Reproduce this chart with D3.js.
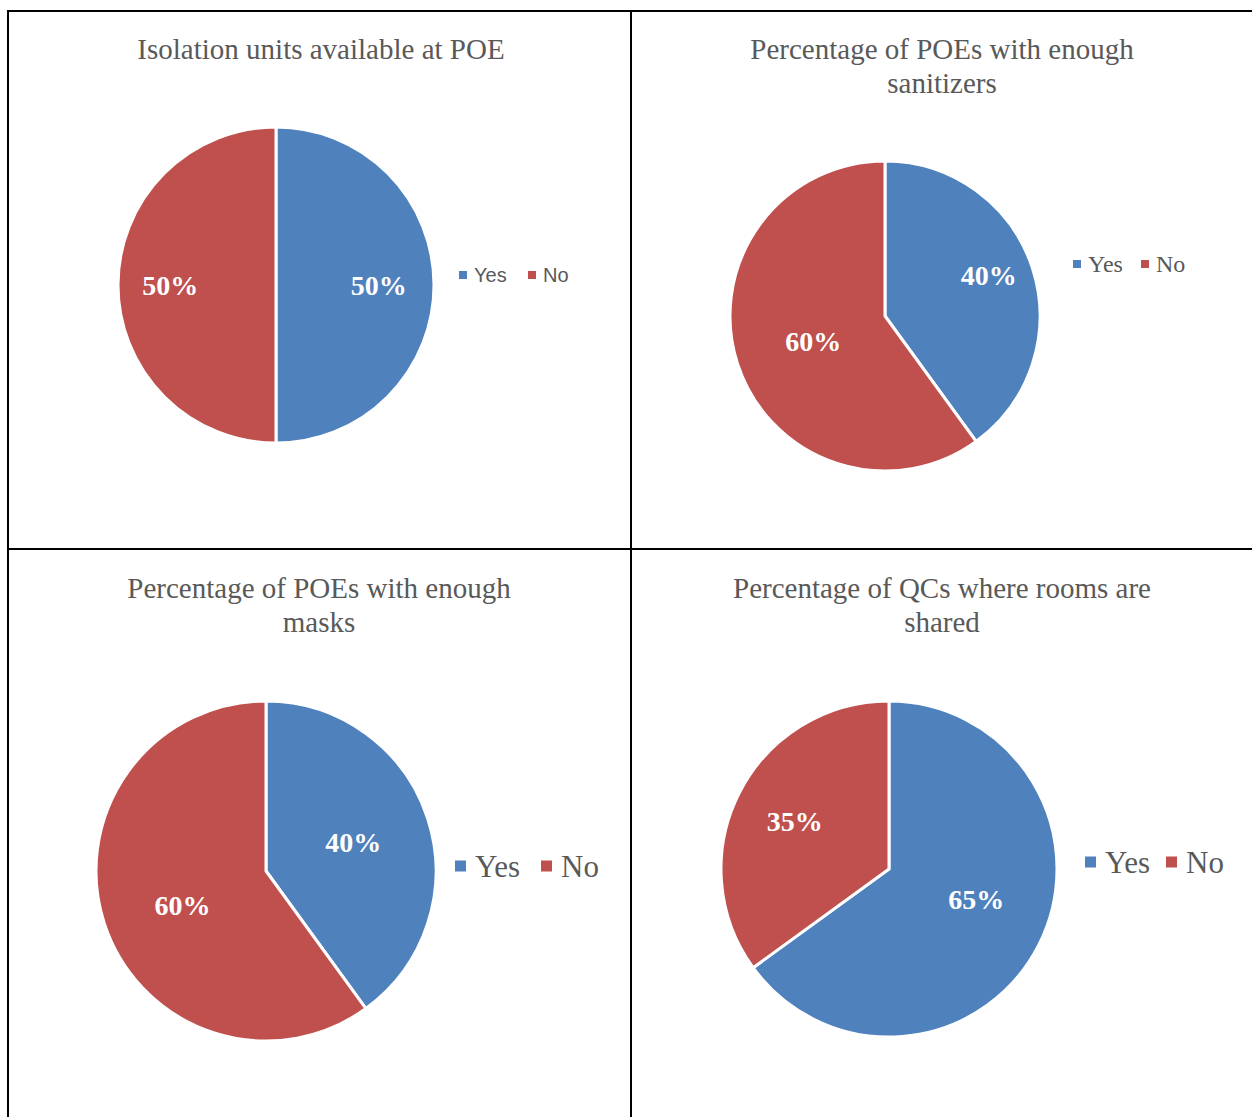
<!DOCTYPE html>
<html>
<head>
<meta charset="utf-8">
<script src="https://cdn.jsdelivr.net/npm/d3@7/dist/d3.min.js"></script>
<style>
  html, body { margin: 0; padding: 0; background: #fff; }
  svg { display: block; }
</style>
</head>
<body>
<svg id="chart" width="1252" height="1117"></svg>
<script>
// Survey results: share of sites answering Yes / No for each question
const categories = ["Yes", "No"];
const titles = [
  ["Isolation units available at POE"],
  ["Percentage of POEs with enough", "sanitizers"],
  ["Percentage of POEs with enough", "masks"],
  ["Percentage of QCs where rooms are", "shared"]
];
const yesValues = [50, 40, 40, 65];
const noValues  = [50, 60, 60, 35];

const colors = d3.scaleOrdinal().domain(categories).range(["#4F81BD", "#C0504D"]);

// Panel layout: pie centre/radius; per-slice label distance (fraction of radius)
// and angular nudge (degrees) from the slice mid-angle; title and legend placement
const panels = [
  { cx: 276, cy: 285, r: 158, lr: [0.65, 0.67], la: [0, 0],     tx: 321, ty: [59],       lx: 459,  ly: 275, lfont: "Liberation Sans",  lsize: 20, sq: 8,  tgap: 7, gap: 69 },
  { cx: 885, cy: 316, r: 155, lr: [0.72, 0.49], la: [-3.7, -1], tx: 942, ty: [59, 93],   lx: 1073, ly: 264, lfont: "Liberation Serif", lsize: 24, sq: 8,  tgap: 7, gap: 68 },
  { cx: 266, cy: 871, r: 170, lr: [0.54, 0.53], la: [0, -4],    tx: 319, ty: [598, 632], lx: 455,  ly: 866, lfont: "Liberation Serif", lsize: 31, sq: 11, tgap: 9, gap: 86 },
  { cx: 889, cy: 869, r: 168, lr: [0.55, 0.63], la: [-8, 0],    tx: 942, ty: [598, 632], lx: 1085, ly: 862, lfont: "Liberation Serif", lsize: 31, sq: 11, tgap: 9, gap: 81 }
];

const svg = d3.select("#chart");

// Table grid lines
const grid = svg.append("g").attr("stroke", "#000").attr("stroke-width", 2);
grid.append("line").attr("x1", 7).attr("x2", 1252).attr("y1", 11).attr("y2", 11);
grid.append("line").attr("x1", 8).attr("x2", 8).attr("y1", 10).attr("y2", 1117);
grid.append("line").attr("x1", 631).attr("x2", 631).attr("y1", 10).attr("y2", 1117);
grid.append("line").attr("x1", 8).attr("x2", 1252).attr("y1", 549).attr("y2", 549);

const pie = d3.pie().sort(null).value(d => d.value);

panels.forEach((p, i) => {
  const data = categories.map((c, k) => ({ cat: c, value: k === 0 ? yesValues[i] : noValues[i] }));
  const arcs = pie(data);
  const arc = d3.arc().innerRadius(0).outerRadius(p.r);

  const g = svg.append("g").attr("transform", `translate(${p.cx},${p.cy})`);
  g.selectAll("path")
    .data(arcs)
    .join("path")
    .attr("d", arc)
    .attr("fill", d => colors(d.data.cat))
    .attr("stroke", "#fff")
    .attr("stroke-width", 3)
    .attr("stroke-linejoin", "round");

  g.selectAll("text.val")
    .data(arcs)
    .join("text")
    .attr("class", "val")
    .attr("transform", (d, k) => {
      const a = (d.startAngle + d.endAngle) / 2 + p.la[k] * Math.PI / 180;
      const rr = p.r * p.lr[k];
      return `translate(${rr * Math.sin(a)},${-rr * Math.cos(a)})`;
    })
    .attr("text-anchor", "middle")
    .attr("dy", "0.35em")
    .attr("font-family", "Liberation Serif")
    .attr("font-weight", "bold")
    .attr("font-size", 28)
    .attr("fill", "#fff")
    .text(d => d.data.value + "%");

  // Title
  const t = svg.append("text")
    .attr("text-anchor", "middle")
    .attr("font-family", "Liberation Serif")
    .attr("font-size", 29)
    .attr("fill", "#595959");
  titles[i].forEach((line, j) => {
    t.append("tspan").attr("x", p.tx).attr("y", p.ty[j]).text(line);
  });

  // Legend
  const lg = svg.append("g").attr("transform", `translate(${p.lx},${p.ly})`);
  const items = lg.selectAll("g")
    .data(categories)
    .join("g")
    .attr("transform", (d, k) => `translate(${k * p.gap},0)`);
  items.append("rect")
    .attr("x", 0).attr("y", -p.sq / 2)
    .attr("width", p.sq).attr("height", p.sq)
    .attr("fill", d => colors(d));
  items.append("text")
    .attr("x", p.sq + p.tgap)
    .attr("dy", "0.35em")
    .attr("font-family", p.lfont)
    .attr("font-size", p.lsize)
    .attr("fill", "#595959")
    .text(d => d);
});
</script>
</body>
</html>
